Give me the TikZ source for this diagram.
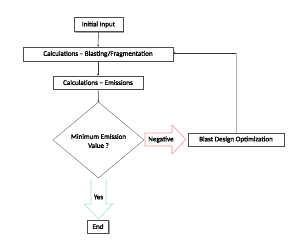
\documentclass[tikz,border=0pt]{standalone}
\usepackage{fontspec}
\setmainfont{Carlito}[AutoFakeBold=1.5]
\usetikzlibrary{shapes.geometric,shadows,arrows.meta}
\definecolor{negred}{HTML}{E89A9A}
\definecolor{yesgreen}{HTML}{A8E2BE}
\newcommand{\boxfont}{\fontsize{7.1}{8}\selectfont\bfseries}
\tikzset{
  box/.style={draw=black!70, fill=white, line width=0.5pt, inner sep=0pt,
    font=\boxfont,
    drop shadow={shadow xshift=1pt, shadow yshift=-1pt, fill=black!35, opacity=1}},
  lbl/.style={font=\boxfont, inner sep=0pt},
  conn/.style={draw=black!80, line width=0.5pt, -{Stealth[length=2pt,width=2pt]}},
}
\begin{document}
\begin{tikzpicture}[x=1pt,y=-1pt]
\useasboundingbox (0,0) rectangle (300,241);
\node[box, minimum width=49pt, minimum height=14pt] (init) at (98.5,24.5) {Initial Input};
\node[box, minimum width=150pt, minimum height=14pt] (blast) at (98,54) {Calculations -- Blasting/Fragmentation};
\node[box, minimum width=90pt, minimum height=13pt] (emis) at (98,82.5) {Calculations -- Emissions};
\node[diamond, draw=black!60, line width=0.4pt, minimum width=91pt, minimum height=76pt, inner sep=0pt] (dec) at (98.5,140) {};
\node[lbl, align=center] (dectext) at (98.5,141) {Minimum Emission\\[1pt]Value ?};
\node[box, minimum width=96pt, minimum height=13pt] (opt) at (236,139.5) {Blast Design Optimization};
\node[box, minimum width=21pt, minimum height=13pt] (end) at (98,226.5) {End};
% Negative block arrow
\draw[negred, line width=0.6pt] (145,133) -- (172,133) -- (172,125) -- (186,139.5) -- (172,154) -- (172,146) -- (145,146) -- cycle;
\node[lbl] (neg) at (161,139.5) {Negative};
% Yes block arrow
\draw[yesgreen, line width=0.6pt] (91,178.5) -- (91,204) -- (84,204) -- (98.5,219) -- (113,204) -- (106,204) -- (106,178.5);
\node[lbl] (yes) at (98.5,197) {Yes};
% connectors
\draw[conn] (init) -- (blast);
\draw[conn] (blast) -- (emis);
\draw[conn] (emis) -- (dec.north);
\coordinate (corner) at (236,53);
\draw[black!30, line width=0.5pt] (opt.north -| corner) -- (corner);
\draw[conn] (corner) -- (blast.east |- corner);
\end{tikzpicture}
\end{document}
